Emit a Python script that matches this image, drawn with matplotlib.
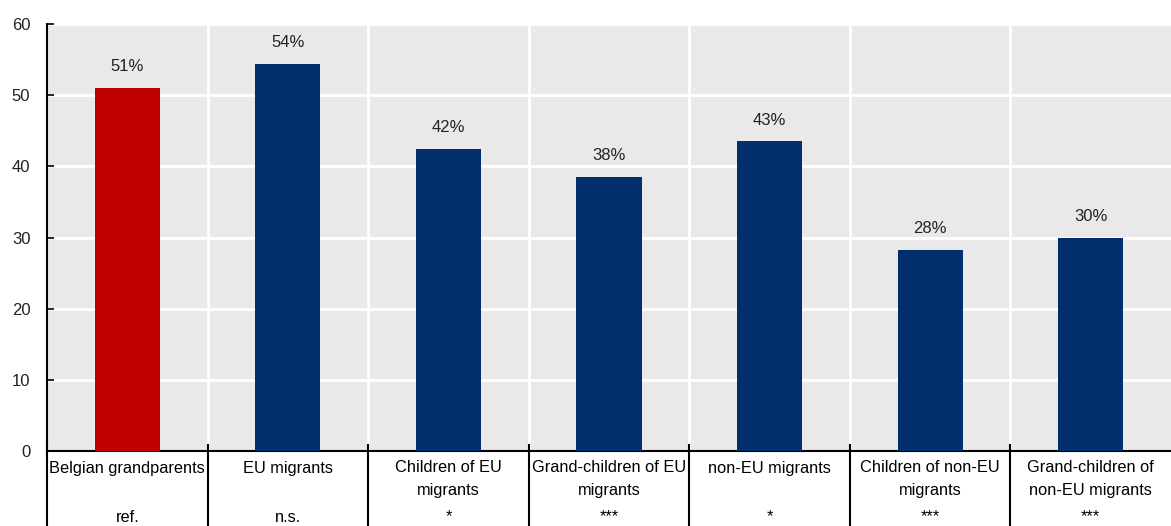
import matplotlib
matplotlib.use("Agg")
from matplotlib import pyplot as plt
from matplotlib.lines import Line2D

plt.rcParams['font.family'] = ['Liberation Sans', 'DejaVu Sans']

# data
categories = ["Belgian grandparents", "EU migrants", "Children of EU\nmigrants",
              "Grand-children of EU\nmigrants", "non-EU migrants",
              "Children of non-EU\nmigrants", "Grand-children of\nnon-EU migrants"]
values = [51.0, 54.4, 42.5, 38.5, 43.5, 28.2, 30.0]
value_labels = ["51%", "54%", "42%", "38%", "43%", "28%", "30%"]
significance = ["ref.", "n.s.", "*", "***", "*", "***", "***"]

W, H = 1171, 526
fig = plt.figure(figsize=(W / 100, H / 100), dpi=100)
ax_left, ax_right, ax_top, ax_bottom = 47, 1171, 24, 451
ax = fig.add_axes([ax_left / W, 1 - ax_bottom / H, (ax_right - ax_left) / W, (ax_bottom - ax_top) / H])
ax.set_facecolor("#E9E9E9")

colors = ["#C00000"] + ["#002F6C"] * (len(values) - 1)
x = list(range(len(values)))
bars = ax.bar(x, values, width=0.405, color=colors, zorder=3)

for xi, v, lab in zip(x, values, value_labels):
    ax.annotate(lab, (xi, v), xytext=(0, 10), textcoords="offset points",
                ha="center", va="bottom", fontsize=12, color="#222222")

ax.set_xlim(-0.5, len(values) - 0.5)
ax.set_ylim(0, 60)
ax.set_yticks(range(0, 61, 10))
ax.set_xticks([])
ax.tick_params(axis="y", direction="in", length=5, width=1.2, labelsize=12, pad=12, colors="black")
for t in ax.get_yticklabels():
    t.set_color("#222222")

# white grid, horizontal at ticks, vertical at category boundaries
for yv in range(10, 61, 10):
    ax.axhline(yv, color="white", lw=2, zorder=1)
for b in range(1, len(values)):
    ax.axvline(b - 0.5, color="white", lw=2, zorder=1)

for s in ["top", "right"]:
    ax.spines[s].set_visible(False)
ax.spines["left"].set_linewidth(1.5)
ax.spines["bottom"].set_linewidth(1.5)

# table of labels below the axis
trans = ax.get_xaxis_transform()
for xi, cat, sig in zip(x, categories, significance):
    lines = cat.split("\n")
    ax.text(xi, -17 / 427, lines[0], transform=trans, ha="center", va="center",
            fontsize=11.8, clip_on=False)
    if len(lines) > 1:
        ax.text(xi, -40 / 427, lines[1], transform=trans, ha="center", va="center",
                fontsize=11.8, clip_on=False)
    ax.text(xi, -66 / 427, sig, transform=trans, ha="center", va="center",
            fontsize=11.8, clip_on=False)

for b in range(len(values)):
    ax.add_line(Line2D([b - 0.5, b - 0.5], [6 / 427, -80 / 427], transform=trans,
                       color="black", lw=1.5, clip_on=False))

fig.savefig("out.png", dpi=100)
